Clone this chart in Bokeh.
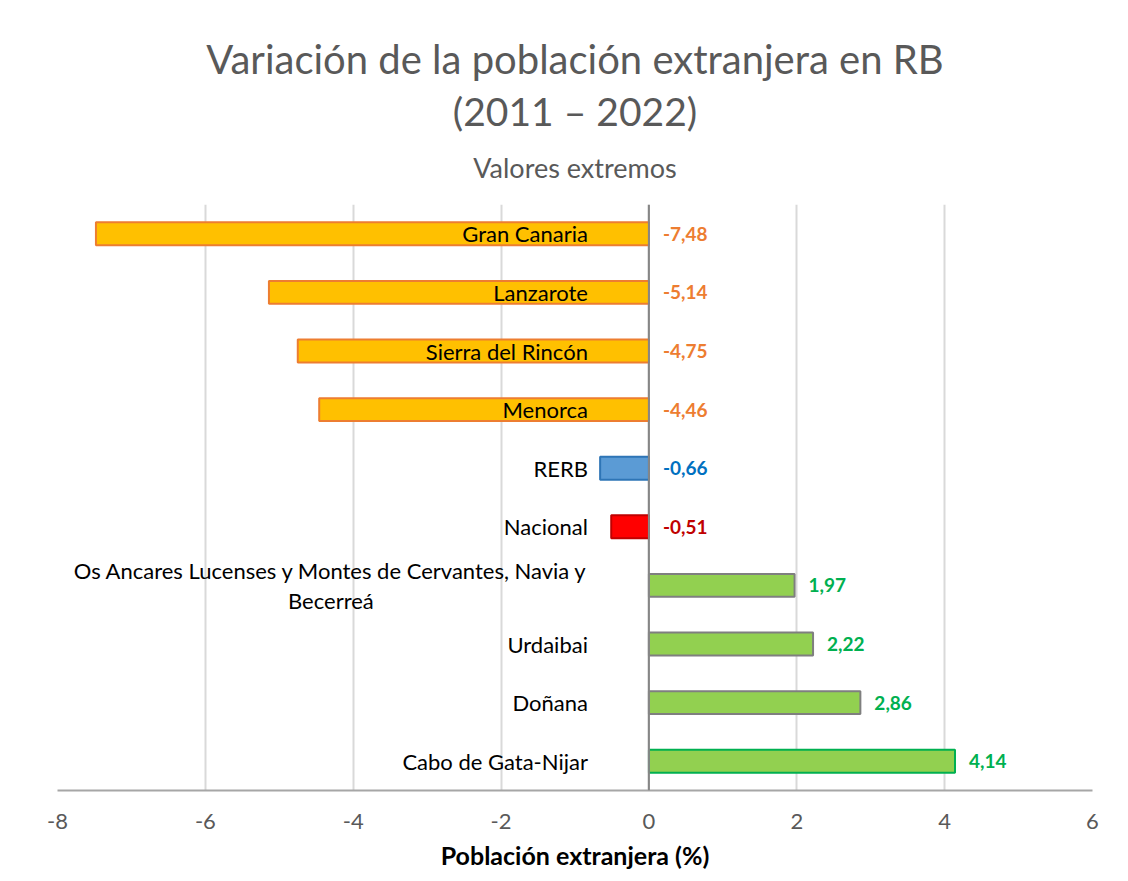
from bokeh.plotting import figure
from bokeh.models import ColumnDataSource, FactorRange, FixedTicker, Span, Title
from bokeh.core.properties import value
from bokeh.embed import file_html
from bokeh.resources import INLINE

# ---- data (top to bottom as shown) ----
categories = [
    "Gran Canaria",
    "Lanzarote",
    "Sierra del Rincón",
    "Menorca",
    "RERB",
    "Nacional",
    "Os Ancares Lucenses y Montes de Cervantes, Navia y Becerreá",
    "Urdaibai",
    "Doñana",
    "Cabo de Gata-Nijar",
]
display_labels = [
    "Gran Canaria",
    "Lanzarote",
    "Sierra del Rincón",
    "Menorca",
    "RERB",
    "Nacional",
    "Os Ancares Lucenses y Montes de Cervantes, Navia y\nBecerreá",
    "Urdaibai",
    "Doñana",
    "Cabo de Gata-Nijar",
]
values = [-7.48, -5.14, -4.75, -4.46, -0.66, -0.51, 1.97, 2.22, 2.86, 4.14]
value_text = ["-7,48", "-5,14", "-4,75", "-4,46", "-0,66", "-0,51", "1,97", "2,22", "2,86", "4,14"]
fill_colors = ["#FFC000", "#FFC000", "#FFC000", "#FFC000", "#5B9BD5", "#FF0000",
               "#92D050", "#92D050", "#92D050", "#92D050"]
line_colors = ["#ED7D31", "#ED7D31", "#ED7D31", "#ED7D31", "#2E75B6", "#C00000",
               "#7F7F7F", "#7F7F7F", "#7F7F7F", "#00B050"]
label_colors = ["#ED7D31", "#ED7D31", "#ED7D31", "#ED7D31", "#0070C0", "#C00000",
                "#00B050", "#00B050", "#00B050", "#00B050"]
x_ticks = [-8, -6, -4, -2, 0, 2, 4, 6]
x_tick_labels = ["-8", "-6", "-4", "-2", "0", "2", "4", "6"]

FONT = "Lato"

label_x = [max(v, 0) for v in values]
# category label alignment (the long one is a centered two-line block)
cat_align = ["center" if "\n" in t else "right" for t in display_labels]
cat_dx = [-318 if "\n" in t else -61 for t in display_labels]

src = ColumnDataSource(dict(
    cat=categories, disp=display_labels, val=values, vtxt=value_text,
    fill=fill_colors, line=line_colors, lcol=label_colors, lx=label_x,
    calign=cat_align, cdx=cat_dx,
))

p = figure(
    width=1120, height=873,
    y_range=FactorRange(factors=list(reversed(categories))),
    x_range=(-8, 6),
    output_backend="svg", toolbar_location=None,
    y_axis_location=None, title=None,
    min_border_left=57, min_border_right=28, min_border_top=204, min_border_bottom=83,
)

p.hbar(y="cat", right="val", left=0, height=0.39, source=src,
       fill_color="fill", line_color="line", line_width=2)

p.add_layout(Span(location=0, dimension="height", line_color="#868686", line_width=2))

p.text(x=0, y="cat", text="disp", source=src, x_offset="cdx",
       text_align="calign", text_baseline="middle",
       text_font=value(FONT), text_font_size="22px", text_color="#000000",
       text_line_height=1.1)

p.text(x="lx", y="cat", text="vtxt", source=src, x_offset=14,
       text_align="left", text_baseline="middle",
       text_font=value(FONT), text_font_size="19px", text_font_style="bold",
       text_color="lcol")

# axes / grid
p.xaxis.ticker = FixedTicker(ticks=x_ticks)
p.xaxis.major_label_overrides = dict(zip(x_ticks, x_tick_labels))
p.xaxis.major_tick_line_color = None
p.xaxis.minor_tick_line_color = None
p.xaxis.axis_line_color = "#A6A6A6"
p.xaxis.axis_line_width = 2
p.xaxis.major_label_text_font = FONT
p.xaxis.major_label_text_font_size = "22px"
p.xaxis.major_label_text_color = "#595959"
p.xaxis.major_label_standoff = 17
p.xaxis.axis_label = "Población extranjera (%)"
p.xaxis.axis_label_text_font = FONT
p.xaxis.axis_label_text_font_size = "25px"
p.xaxis.axis_label_text_font_style = "bold"
p.xaxis.axis_label_text_color = "#000000"
p.xaxis.axis_label_standoff = 8

p.xgrid.ticker = FixedTicker(ticks=x_ticks)
p.xgrid.grid_line_color = "#D9D9D9"
p.xgrid.grid_line_width = 2
p.ygrid.grid_line_color = None
p.outline_line_color = None

# titles, stacked upward from the plot frame (first added = closest to frame)
p.add_layout(Title(text=" ", align="center", text_font=FONT,
                   text_font_size="1px", text_color="#FFFFFF", standoff=7), "above")
p.add_layout(Title(text="Valores extremos", align="center", text_font=FONT,
                   text_font_size="27px", text_font_style="normal",
                   text_color="#595959", standoff=22), "above")
p.add_layout(Title(text="(2011 – 2022)", align="center", text_font=FONT,
                   text_font_size="39px", text_font_style="normal",
                   text_color="#595959", standoff=7), "above")
p.add_layout(Title(text="Variación de la población extranjera en RB", align="center",
                   text_font=FONT, text_font_size="40px", text_font_style="normal",
                   text_color="#595959", standoff=0), "above")

open("out.html", "w").write(file_html(p, INLINE))
